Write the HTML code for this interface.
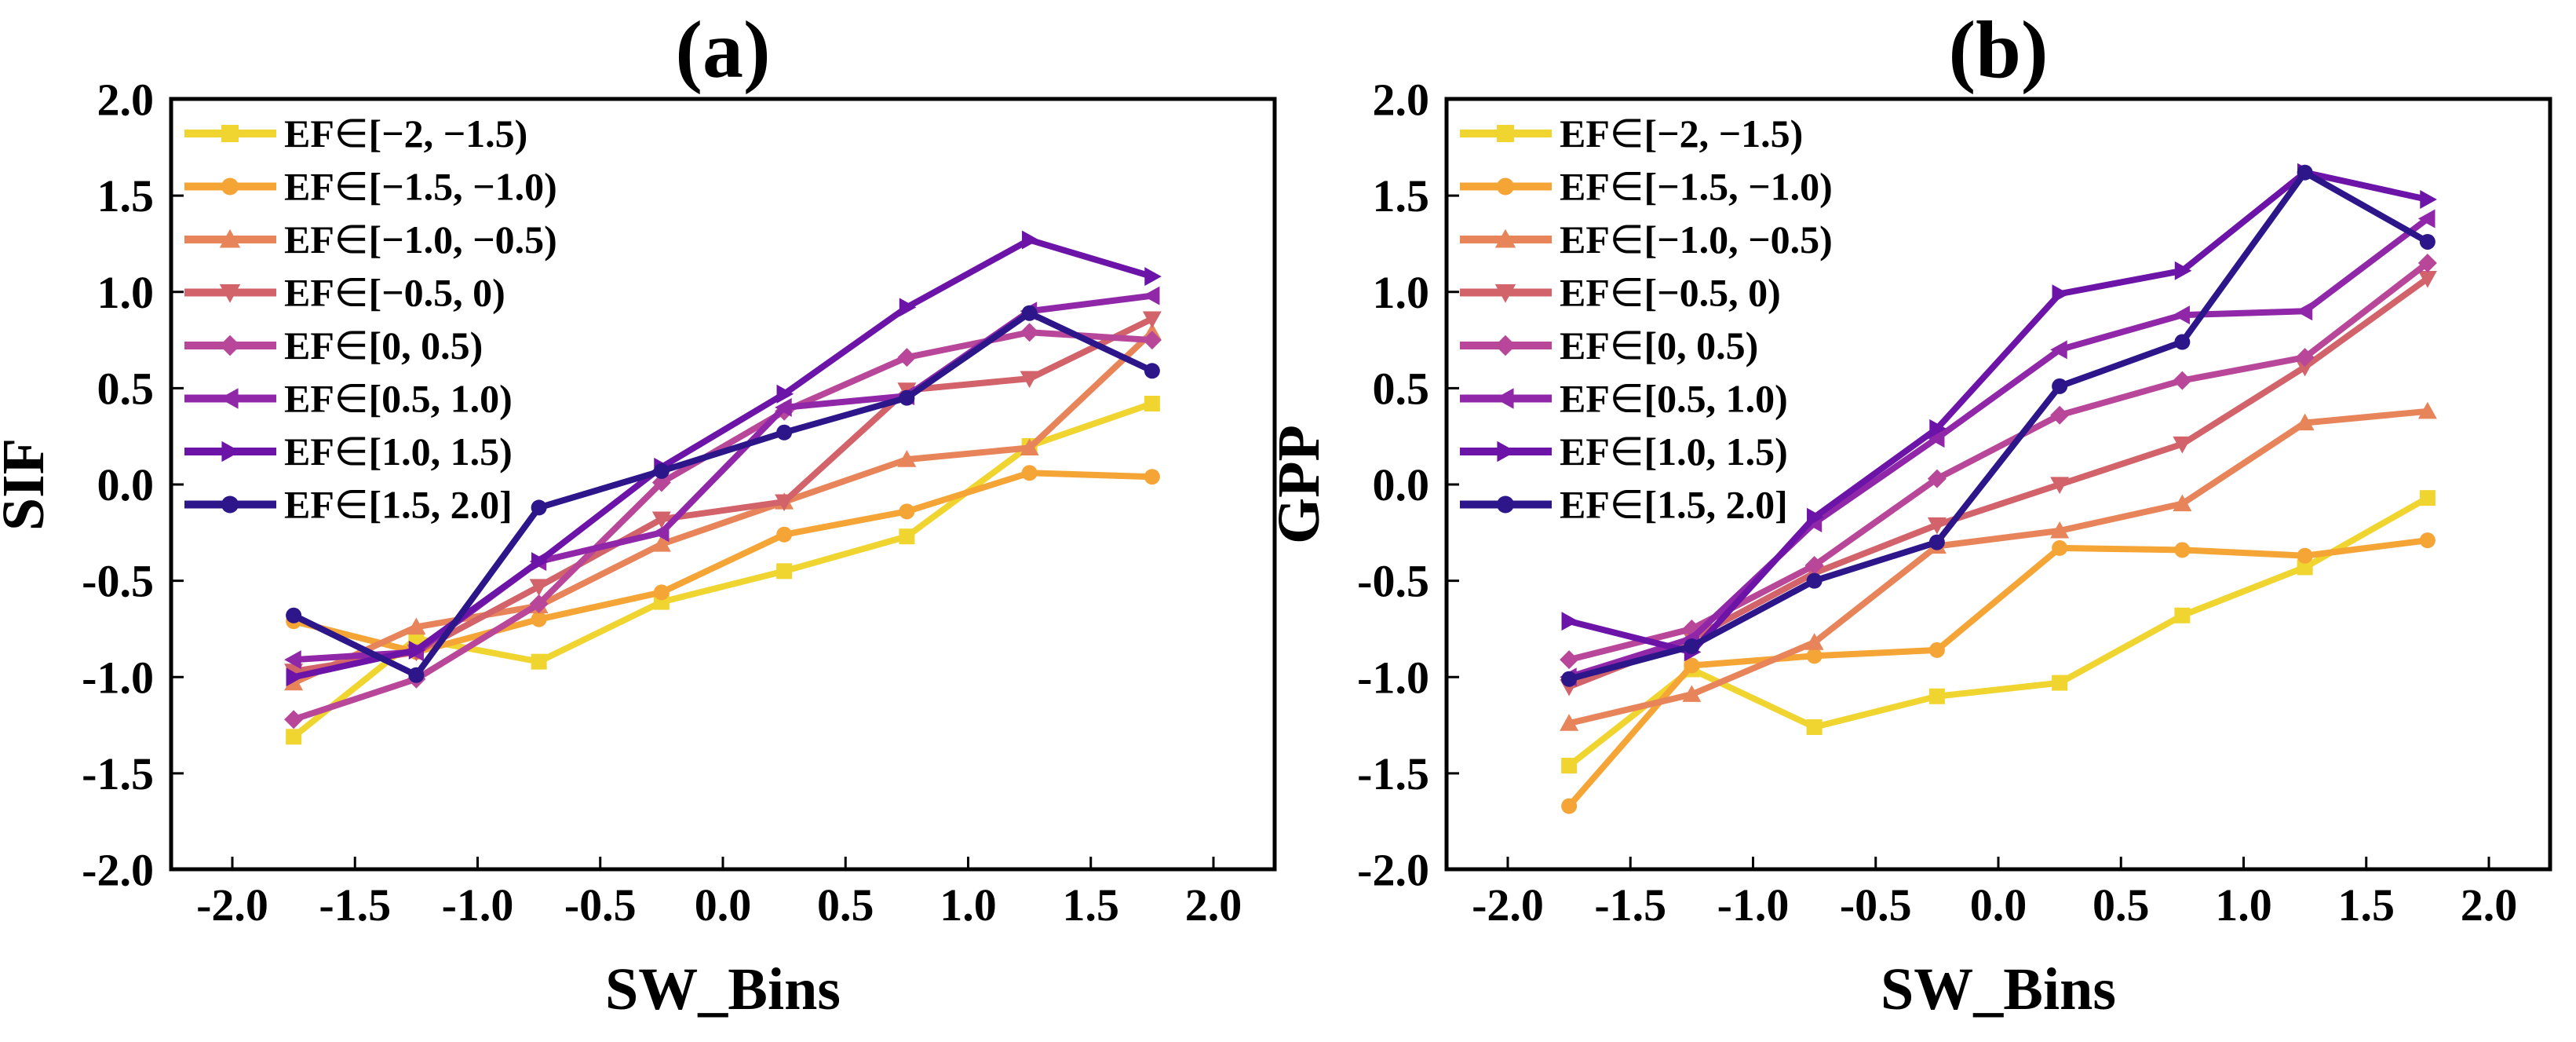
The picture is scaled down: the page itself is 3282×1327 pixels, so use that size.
<!DOCTYPE html>
<html><head><meta charset="utf-8"><style>
html,body{margin:0;padding:0;background:#fff;}
svg{display:block;font-family:"Liberation Serif",serif;font-weight:bold;}
</style></head><body>
<svg id="fig" width="3282" height="1327" viewBox="0 0 3282 1327" xmlns="http://www.w3.org/2000/svg"></svg>
<script>
const xCats=[-1.75,-1.25,-0.75,-0.25,0.25,0.75,1.25,1.75];
const xTicks=[-2.0,-1.5,-1.0,-0.5,0.0,0.5,1.0,1.5,2.0];
const yTicks=[-2.0,-1.5,-1.0,-0.5,0.0,0.5,1.0,1.5,2.0];
const seriesRanges=["[\u22122, \u22121.5)","[\u22121.5, \u22121.0)","[\u22121.0, \u22120.5)","[\u22120.5,  0)","[0, 0.5)","[0.5, 1.0)","[1.0, 1.5)","[1.5, 2.0]"];
const sif0=[-1.31,-0.80,-0.92,-0.61,-0.45,-0.27,0.20,0.42];
const sif1=[-0.71,-0.87,-0.70,-0.56,-0.26,-0.14,0.06,0.04];
const sif2=[-1.03,-0.74,-0.63,-0.31,-0.09,0.13,0.19,0.79];
const sif3=[-0.97,-0.87,-0.53,-0.18,-0.09,0.49,0.55,0.86];
const sif4=[-1.22,-1.01,-0.62,0.01,0.38,0.66,0.79,0.75];
const sif5=[-0.91,-0.87,-0.40,-0.25,0.40,0.46,0.90,0.98];
const sif6=[-1.00,-0.86,-0.40,0.09,0.47,0.92,1.27,1.08];
const sif7=[-0.68,-0.99,-0.12,0.07,0.27,0.45,0.89,0.59];
const gpp0=[-1.46,-0.96,-1.26,-1.10,-1.03,-0.68,-0.43,-0.07];
const gpp1=[-1.67,-0.94,-0.89,-0.86,-0.33,-0.34,-0.37,-0.29];
const gpp2=[-1.24,-1.09,-0.82,-0.32,-0.24,-0.10,0.32,0.38];
const gpp3=[-1.05,-0.80,-0.46,-0.21,0.00,0.21,0.61,1.07];
const gpp4=[-0.91,-0.75,-0.42,0.03,0.36,0.54,0.66,1.15];
const gpp5=[-1.00,-0.80,-0.20,0.24,0.70,0.88,0.90,1.38];
const gpp6=[-0.71,-0.87,-0.17,0.29,0.99,1.11,1.62,1.48];
const gpp7=[-1.01,-0.84,-0.50,-0.30,0.51,0.74,1.62,1.26];
const colors=["#f0d530","#f5a436","#e8845a","#d2636a","#b8479a","#9027a8","#6c14a8","#2c168a"];
const markers=["square","circle","up","down","diamond","left","right","circle"];

const NS="http://www.w3.org/2000/svg";
const svg=document.getElementById('fig');
function mk(tag,attrs,parent){const e=document.createElementNS(NS,tag);for(const k in attrs)e.setAttribute(k,attrs[k]);(parent||svg).appendChild(e);return e;}

function marker(g,type,cx,cy,s,color){
  let e;
  if(type==="square") e=mk('rect',{x:cx-s,y:cy-s,width:2*s,height:2*s,fill:color},g);
  else if(type==="circle") e=mk('circle',{cx:cx,cy:cy,r:s,fill:color},g);
  else {
    let p;
    const r=s*1.2;
    if(type==="up") p=[[cx,cy-r],[cx+r,cy+r*0.8],[cx-r,cy+r*0.8]];
    if(type==="down") p=[[cx,cy+r],[cx+r,cy-r*0.8],[cx-r,cy-r*0.8]];
    if(type==="left") p=[[cx-r,cy],[cx+r*0.8,cy-r],[cx+r*0.8,cy+r]];
    if(type==="right") p=[[cx+r,cy],[cx-r*0.8,cy-r],[cx-r*0.8,cy+r]];
    if(type==="diamond") p=[[cx,cy-r],[cx+r,cy],[cx,cy+r],[cx-r,cy]];
    e=mk('polygon',{points:p.map(q=>q.join(',')).join(' '),fill:color},g);
  }
  return e;
}

function panel(id,left,x0,yLabel,title,data){
  const right=left+1406, top=126, bottom=1107;
  const xs=v=>x0+(v+2)*312.5;
  const ys=v=>617-v*245.25;
  const g=mk('g',{});
  
  
  const t=mk('text',{x:(left+right)/2,y:98,'text-anchor':'middle','font-size':104},g);
  t.textContent=title;
  
  
  xTicks.forEach(v=>{
    const l=mk('line',{x1:xs(v),x2:xs(v),y1:bottom,y2:bottom-16,stroke:'#000','stroke-width':3},g);
    
    
    const tx=mk('text',{x:xs(v),y:1172,'text-anchor':'middle','font-size':58},g);
    tx.textContent=v.toFixed(1);
    
    
  });
  yTicks.forEach(v=>{
    const l=mk('line',{x1:left,x2:left+16,y1:ys(v),y2:ys(v),stroke:'#000','stroke-width':3},g);
    
    
    const ty=mk('text',{x:left-22,y:ys(v)+20,'text-anchor':'end','font-size':58},g);
    ty.textContent=v.toFixed(1);
    
    
  });
  const xl=mk('text',{x:(left+right)/2,y:1285,'text-anchor':'middle','font-size':76},g);
  xl.textContent='SW_Bins';
  
  
  const yl=mk('text',{x:0,y:0,'text-anchor':'middle','font-size':76,transform:`translate(${left-163},617) rotate(-90)`},g);
  yl.textContent=yLabel;
  
  
  data.forEach((arr,i)=>{
    const sg=mk('g',{},g);
    
    
    const pts=arr.map((v,j)=>xs(xCats[j])+','+ys(v)).join(' ');
    const pl=mk('polyline',{points:pts,fill:'none',stroke:colors[i],'stroke-width':8,'stroke-linejoin':'round'},sg);
    
    
    arr.forEach((v,j)=>{
      const m=marker(sg,markers[i],xs(xCats[j]),ys(v),10,colors[i]);
      
      
    });
  });
  const lg=mk('g',{},g);
  
  
  seriesRanges.forEach((n,i)=>{
    const y=170+i*67.5;
    const eg=mk('g',{},lg);
    
    
    mk('line',{x1:left+17,x2:left+134,y1:y,y2:y,stroke:colors[i],'stroke-width':10},eg);
    marker(eg,markers[i],left+75,y,11,colors[i]);
    const tt=mk('text',{x:left+144,y:y+17,'font-size':50},eg);
    const a=mk('tspan',{},tt); a.textContent='EF';
    const b=mk('tspan',{'font-weight':'normal'},tt); b.textContent='\u2208';
    const c=mk('tspan',{},tt); c.textContent=n;
  });
  const fr=mk('rect',{x:left,y:top,width:right-left,height:bottom-top,fill:'none',stroke:'#000','stroke-width':5},g);
  
  
}
panel('sif',218,296,'SIF','(a)',[sif0,sif1,sif2,sif3,sif4,sif5,sif6,sif7]);
panel('gpp',1843,1921,'GPP','(b)',[gpp0,gpp1,gpp2,gpp3,gpp4,gpp5,gpp6,gpp7]);
</script>
</body></html>
